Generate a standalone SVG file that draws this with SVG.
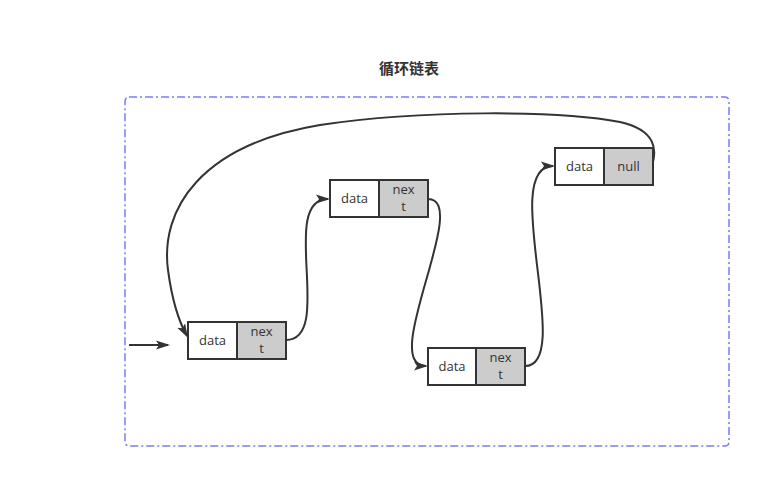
<svg xmlns="http://www.w3.org/2000/svg" width="761" height="478" viewBox="0 0 761 478">
<defs>
<marker id="ah" markerWidth="14" markerHeight="10" refX="12" refY="5" orient="auto" markerUnits="userSpaceOnUse" viewBox="0 0 14 10">
<path d="M0,0.5 L14,5 L0,9.5 L3,5 Z" fill="#333"/>
</marker>
<style>
.d{fill:#fff;stroke:#333;stroke-width:2}
.n{fill:#ccc;stroke:#333;stroke-width:2}
.t{font-family:"Open Sans","DejaVu Sans",sans-serif;font-size:13px;fill:#333;text-anchor:middle}
.c{fill:none;stroke:#333;stroke-width:2}
</style>
</defs>
<rect width="761" height="478" fill="#fff"/>
<rect x="125" y="97" width="604" height="349" rx="4" fill="none" stroke="#7a7aff" stroke-width="1.5" stroke-dasharray="8,3,2,3"/>
<text x="409" y="74" font-family="'Noto Sans CJK SC',sans-serif" font-size="15" font-weight="bold" fill="#333" text-anchor="middle">循环链表</text>
<g id="connectors">
<path class="c" d="M129,345 L168,345" marker-end="url(#ah)"/>
<path class="c" d="M286,340 C335,340 278,199 328,199" marker-end="url(#ah)"/>
<path class="c" d="M428,199 C472,199 378,366 426,366" marker-end="url(#ah)"/>
<path class="c" d="M525,366 C575,366 498,166 553,166" marker-end="url(#ah)"/>
<path class="c" d="M651,168 C658,150 656,130 620,122 C560,110 420,110 320,125 C200,145 160,210 168,270 C172,300 178,320 187,336" marker-end="url(#ah)"/>
</g>
<g id="node1">
<rect class="d" x="188" y="322" width="49" height="37"/>
<rect class="n" x="237" y="322" width="49" height="37"/>
<text class="t" x="212.5" y="345">data</text>
<text class="t" x="261.5" y="336">nex</text>
<text class="t" x="261.5" y="353">t</text>
</g>
<g id="node2">
<rect class="d" x="330" y="180" width="49" height="37"/>
<rect class="n" x="379" y="180" width="49" height="37"/>
<text class="t" x="354.5" y="203">data</text>
<text class="t" x="403.5" y="194">nex</text>
<text class="t" x="403.5" y="211">t</text>
</g>
<g id="node3">
<rect class="d" x="428" y="348" width="48" height="37"/>
<rect class="n" x="476" y="348" width="49" height="37"/>
<text class="t" x="452" y="371">data</text>
<text class="t" x="500.5" y="362">nex</text>
<text class="t" x="500.5" y="379">t</text>
</g>
<g id="node4">
<rect class="d" x="555" y="148" width="49" height="37"/>
<rect class="n" x="604" y="148" width="49" height="37"/>
<text class="t" x="579.5" y="171">data</text>
<text class="t" x="628.5" y="171">null</text>
</g>
</svg>
